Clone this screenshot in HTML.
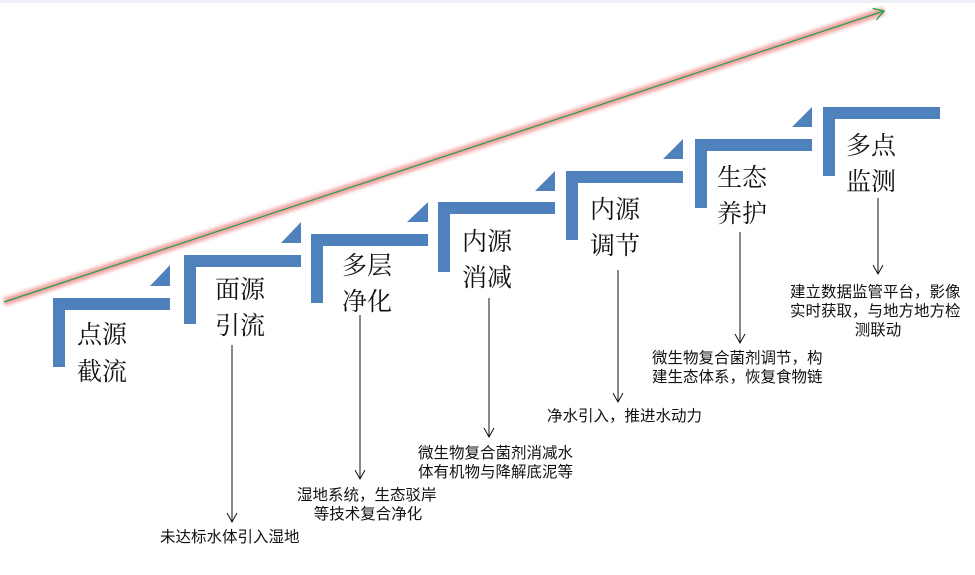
<!DOCTYPE html>
<html><head><meta charset="utf-8"><style>
html,body{margin:0;padding:0;background:#fff;}
svg{display:block;}
.t{font-family:"Noto Serif CJK SC","Liberation Serif",serif;font-size:25px;fill:#111;}
.s{font-family:"Liberation Sans","Noto Sans CJK SC",sans-serif;font-size:15.5px;fill:#111;}
</style></head><body>
<svg width="975" height="575" viewBox="0 0 975 575" xmlns="http://www.w3.org/2000/svg">
<defs>
<filter id="g" x="-10%" y="-50%" width="120%" height="200%"><feGaussianBlur stdDeviation="1.8"/></filter>
<marker id="a" markerWidth="12" markerHeight="12" refX="10" refY="6" orient="auto" markerUnits="userSpaceOnUse">
<path d="M1,1 L10,6 L1,11" fill="none" stroke="#111" stroke-width="1"/></marker>
<marker id="b" markerWidth="14" markerHeight="14" refX="12" refY="7" orient="auto" markerUnits="userSpaceOnUse">
<path d="M2,1 L12,7 L2,13" fill="none" stroke="#22a04a" stroke-width="1.3"/></marker>
</defs>
<rect x="0" y="0" width="975" height="3" fill="#eef0f5"/>
<line x1="4" y1="302" x2="884" y2="11" stroke="#f08a8a" stroke-width="8" opacity="0.8" filter="url(#g)"/>
<line x1="4" y1="302" x2="884" y2="11" stroke="#22a04a" stroke-width="1.2" marker-end="url(#b)"/>
<g fill="#4f81bd">
<rect x="53" y="298" width="117" height="12"/><rect x="53" y="298" width="12" height="69"/>
<polygon points="150,286 170,286 170,265"/>
<rect x="184" y="255" width="117" height="12"/><rect x="184" y="255" width="12" height="69"/>
<polygon points="281,243 301,243 301,222"/>
<rect x="311" y="234" width="117" height="12"/><rect x="311" y="234" width="12" height="69"/>
<polygon points="407,222 428,222 428,202"/>
<rect x="438" y="202" width="117" height="12"/><rect x="438" y="202" width="12" height="70"/>
<polygon points="535,191 555,191 555,171"/>
<rect x="566" y="171" width="117" height="12"/><rect x="566" y="171" width="12" height="69"/>
<polygon points="663,159 683,159 683,139"/>
<rect x="695" y="139" width="117" height="12"/><rect x="695" y="139" width="12" height="69"/>
<polygon points="792,127 812,127 812,107"/>
<rect x="823" y="107" width="117" height="12"/><rect x="823" y="107" width="12" height="69"/>
</g>
<g class="t">
<text x="77" y="343">点源</text><text x="77" y="380">截流</text>
<text x="215" y="298">面源</text><text x="215" y="334">引流</text>
<text x="342" y="274">多层</text><text x="342" y="310">净化</text>
<text x="462" y="250">内源</text><text x="462" y="286">消减</text>
<text x="590" y="218">内源</text><text x="590" y="254">调节</text>
<text x="717" y="186">生态</text><text x="717" y="222">养护</text>
<text x="846" y="154">多点</text><text x="846" y="190">监测</text>
</g>
<g stroke="#111" stroke-width="1">
<line x1="232" y1="345" x2="232" y2="522" marker-end="url(#a)"/>
<line x1="360" y1="315" x2="360" y2="479" marker-end="url(#a)"/>
<line x1="489" y1="298" x2="489" y2="437" marker-end="url(#a)"/>
<line x1="618" y1="270" x2="618" y2="402" marker-end="url(#a)"/>
<line x1="740" y1="232" x2="740" y2="343" marker-end="url(#a)"/>
<line x1="878" y1="198" x2="878" y2="274" marker-end="url(#a)"/>
</g>
<g class="s">
<text x="160" y="542">未达标水体引入湿地</text>
<text x="297" y="500">湿地系统，生态驳岸</text>
<text x="368" y="519" text-anchor="middle">等技术复合净化</text>
<text x="418" y="458">微生物复合菌剂消减水</text>
<text x="418" y="477">体有机物与降解底泥等</text>
<text x="547" y="421">净水引入，推进水动力</text>
<text x="652" y="363">微生物复合菌剂调节，构</text>
<text x="652" y="382">建生态体系，恢复食物链</text>
<text x="790" y="297">建立数据监管平台，影像</text>
<text x="790" y="316">实时获取，与地方地方检</text>
<text x="878" y="335" text-anchor="middle">测联动</text>
</g>
</svg>
</body></html>
